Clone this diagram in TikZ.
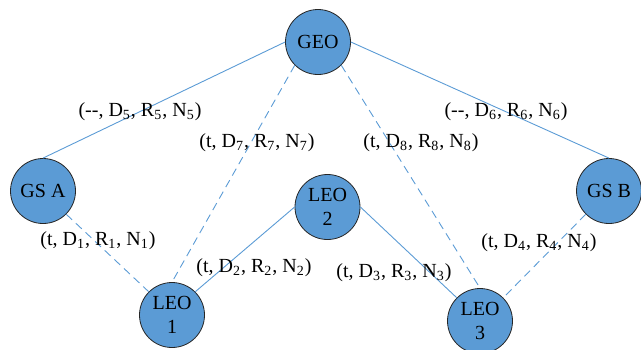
\documentclass[tikz,border=0pt]{standalone}
\usepackage{fontspec}
\setmainfont{Liberation Serif}
\usepackage{tikz}
\usetikzlibrary{positioning}
\definecolor{satblue}{HTML}{5B9BD5}
\newcommand{\lnk}[4]{(#1, D\textsubscript{#2}, R\textsubscript{#3}, N\textsubscript{#4})}

\begin{document}
\begin{tikzpicture}[x=0.5pt,y=-0.5pt,
    sat/.style={circle,draw=black!85,line width=0.4pt,fill=satblue,minimum size=32.5pt,inner sep=0pt,align=center,font=\fontsize{10}{11.7}\selectfont},
    link/.style={satblue,line width=0.45pt},
    dlink/.style={link,dash pattern=on 4pt off 2.6pt},
    lbl/.style={inner sep=0pt,font=\fontsize{10}{12}\selectfont}]
  \useasboundingbox (0,0) rectangle (641,349);
  % nodes
  \node[sat] (geo) at (318,42) {GEO};
  \node[sat] (gsa) at (43,191) {GS A};
  \node[sat] (gsb) at (609,191) {GS B};
  \node[sat] (leo2) at (327.5,207) {LEO\\2};
  \node[sat] (leo1) at (172,315) {LEO\\1};
  \node[sat] (leo3) at (480,321) {LEO\\3};
  % links to GEO
  \draw[link] (geo.west) -- (gsa.north);
  \draw[link] (geo.east) -- (gsb.north);
  \draw[dlink] (geo.south west) -- (leo1.north);
  \draw[dlink] (geo.south east) -- (leo3.north);
  % ground links
  \draw[dlink] (gsa.south east) -- (leo1.north west);
  \draw[dlink] (gsb.south west) -- (leo3.north east);
  % inter-LEO links
  \draw[link] (leo2.west) -- (leo1.north east);
  \draw[link] (leo2.east) -- (leo3.north west);
  % link labels
  \node[lbl] (l5) at (140,112) {\lnk{-{}-}{5}{5}{5}};
  \node[lbl] (l6) at (506,112) {\lnk{-{}-}{6}{6}{6}};
  \node[lbl] (l7) at (257,143) {\lnk{t}{7}{7}{7}};
  \node[lbl] (l8) at (421,143) {\lnk{t}{8}{8}{8}};
  \node[lbl] (l1) at (98,241) {\lnk{t}{1}{1}{1}};
  \node[lbl] (l4) at (539,243) {\lnk{t}{4}{4}{4}};
  \node[lbl] (l2) at (254,268) {\lnk{t}{2}{2}{2}};
  \node[lbl] (l3) at (394,273) {\lnk{t}{3}{3}{3}};
\end{tikzpicture}
\end{document}
